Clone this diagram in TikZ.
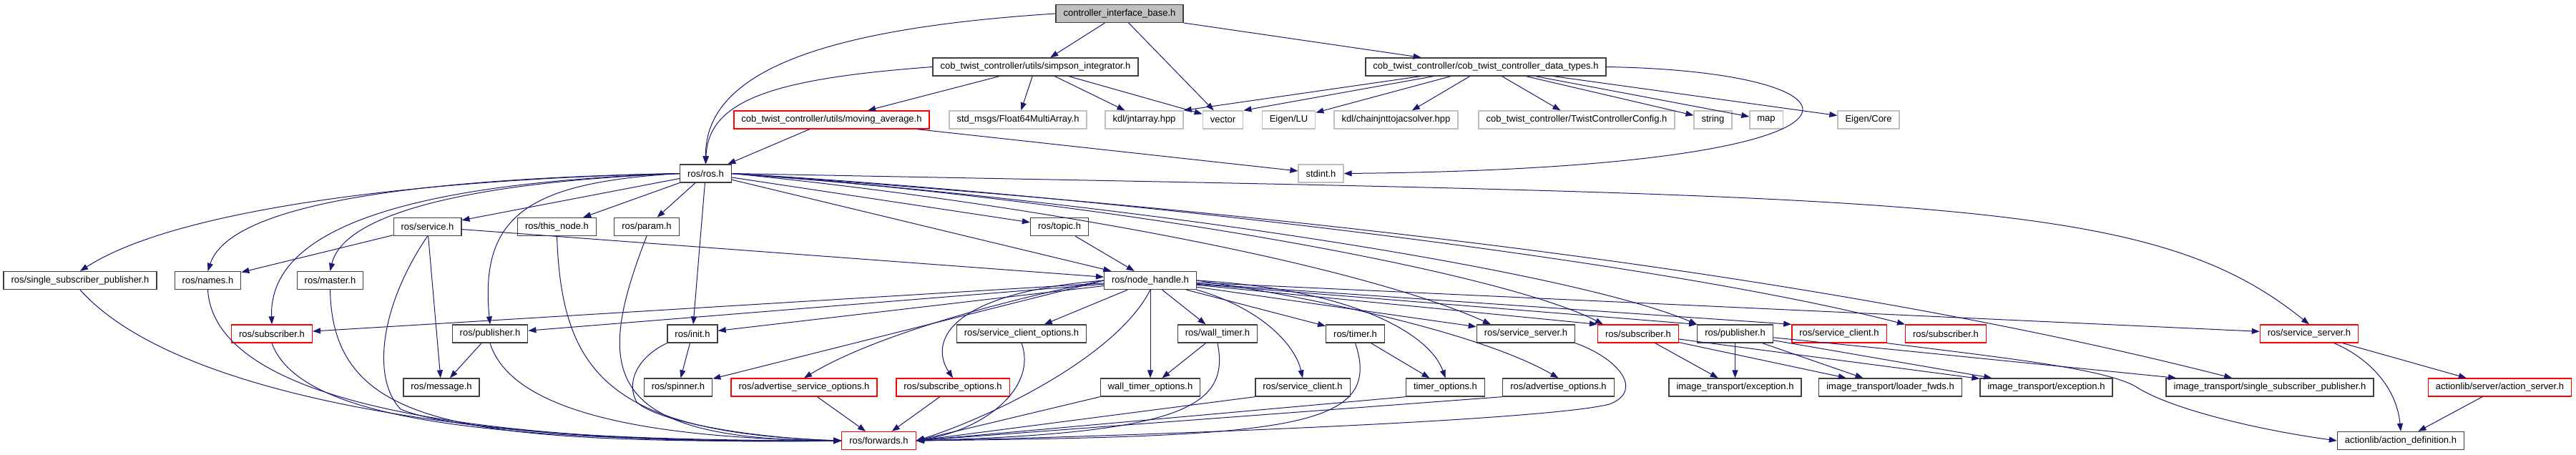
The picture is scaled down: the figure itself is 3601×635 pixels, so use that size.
\documentclass[tikz,border=0pt]{standalone}
\usepackage{fontspec}
\setmainfont{Liberation Sans}
\usetikzlibrary{arrows.meta}
\definecolor{edgeblue}{HTML}{191970}
\definecolor{lightframe}{HTML}{BFBFBF}
\definecolor{rootfill}{HTML}{BFBFBF}
\tikzset{
  hbox/.style={draw=black!75, line width=1.3pt, fill=white, minimum height=25pt,
    inner xsep=10.5pt, inner ysep=0pt, font=\fontsize{13}{15}\selectfont},
  redbox/.style={hbox, draw=red},
  graybox/.style={hbox, draw=lightframe},
  rootbox/.style={hbox, fill=rootfill},
  incl/.style={draw=edgeblue, line width=1pt, -{Triangle[length=11pt,width=8pt]}}
}
\begin{document}
\begin{tikzpicture}[x=1pt,y=1pt]
  \fill[white] (0,0) rectangle (3601,-635);
  \useasboundingbox (0,0) rectangle (3601,-635);
  % Row 1: the documented file
  \node[rootbox] (cib) at (1565,-19) {controller\_interface\_base.h};
  % Row 2
  \node[hbox] (simpson) at (1447.5,-93.5) {cob\_twist\_controller/utils/simpson\_integrator.h};
  \node[hbox] (datatypes) at (2077,-93.5) {cob\_twist\_controller/cob\_twist\_controller\_data\_types.h};
  % Row 3
  \node[redbox] (movingavg) at (1162.5,-167.5) {cob\_twist\_controller/utils/moving\_average.h};
  \node[graybox] (float64) at (1423,-167.5) {std\_msgs/Float64MultiArray.h};
  \node[graybox] (jntarray) at (1599.5,-167.5) {kdl/jntarray.hpp};
  \node[graybox] (vectorh) at (1709.5,-167.5) {vector};
  \node[graybox] (eigenlu) at (1801.5,-167.5) {Eigen/LU};
  \node[graybox] (chainjnt) at (1951.5,-167.5) {kdl/chainjnttojacsolver.hpp};
  \node[graybox] (twistcfg) at (2204,-167.5) {cob\_twist\_controller/TwistControllerConfig.h};
  \node[graybox] (stringh) at (2394.5,-167.5) {string};
  \node[graybox] (maph) at (2469,-167.5) {map};
  \node[graybox] (eigencore) at (2612,-167.5) {Eigen/Core};
  % Row 4
  \node[hbox] (rosh) at (986.5,-242.5) {ros/ros.h};
  \node[graybox] (stdinth) at (1846.5,-242.5) {stdint.h};
  % Row 5
  \node[hbox] (service) at (597.5,-317) {ros/service.h};
  \node[hbox] (thisnode) at (778.5,-317) {ros/this\_node.h};
  \node[hbox] (param) at (904,-317) {ros/param.h};
  \node[hbox] (topic) at (1481,-317) {ros/topic.h};
  % Row 6
  \node[hbox] (ssp) at (112,-392) {ros/single\_subscriber\_publisher.h};
  \node[hbox] (names) at (290.5,-392) {ros/names.h};
  \node[hbox] (master) at (461.5,-392) {ros/master.h};
  \node[hbox] (nodehandle) at (1608,-392) {ros/node\_handle.h};
  % Row 7
  \node[redbox] (subA) at (380,-466.5) {ros/subscriber.h};
  \node[hbox] (pubA) at (685,-466.5) {ros/publisher.h};
  \node[hbox] (init) at (968,-466.5) {ros/init.h};
  \node[hbox] (srvcliopts) at (1428,-466.5) {ros/service\_client\_options.h};
  \node[hbox] (walltimer) at (1702,-466.5) {ros/wall\_timer.h};
  \node[hbox] (timer) at (1894.5,-466.5) {ros/timer.h};
  \node[hbox] (srvsrvA) at (2133,-466.5) {ros/service\_server.h};
  \node[redbox] (subB) at (2290,-466.5) {ros/subscriber.h};
  \node[hbox] (pubB) at (2425.5,-466.5) {ros/publisher.h};
  \node[redbox] (srvcliB) at (2571,-466.5) {ros/service\_client.h};
  \node[redbox] (subC) at (2720,-466.5) {ros/subscriber.h};
  \node[redbox] (srvsrvB) at (3228,-466.5) {ros/service\_server.h};
  % Row 8
  \node[hbox] (message) at (617,-541.5) {ros/message.h};
  \node[hbox] (spinner) at (948,-541.5) {ros/spinner.h};
  \node[redbox] (advsrvopts) at (1124,-541.5) {ros/advertise\_service\_options.h};
  \node[redbox] (subopts) at (1332,-541.5) {ros/subscribe\_options.h};
  \node[hbox] (wtopts) at (1608,-541.5) {wall\_timer\_options.h};
  \node[hbox] (srvcliA) at (1821,-541.5) {ros/service\_client.h};
  \node[hbox] (timeropts) at (2020.5,-541.5) {timer\_options.h};
  \node[hbox] (advopts) at (2178.5,-541.5) {ros/advertise\_options.h};
  \node[hbox] (excA) at (2425.5,-541.5) {image\_transport/exception.h};
  \node[hbox] (loaderfwds) at (2642.5,-541.5) {image\_transport/loader\_fwds.h};
  \node[hbox] (excB) at (2860.5,-541.5) {image\_transport/exception.h};
  \node[hbox] (itssp) at (3173,-541.5) {image\_transport/single\_subscriber\_publisher.h};
  \node[redbox] (actserver) at (3494.5,-541.5) {actionlib/server/action\_server.h};
  % Row 9
  \node[redbox] (forwards) at (1228.5,-616) {ros/forwards.h};
  \node[hbox] (actdef) at (3356,-616) {actionlib/action\_definition.h};

  % controller_interface_base.h
  \draw[incl] (cib) -- (simpson);
  \draw[incl] (cib) -- (vectorh);
  \draw[incl] (cib) -- (datatypes);
  \draw[incl] (cib.west) .. controls (1150,-40) and (985,-100) .. (rosh.north);
  % simpson_integrator.h
  \draw[incl] (simpson.west) .. controls (1080,-110) and (990,-140) .. (rosh.north);
  \draw[incl] (simpson) -- (movingavg);
  \draw[incl] (simpson) -- (float64);
  \draw[incl] (simpson) -- (jntarray);
  \draw[incl] (simpson) -- (vectorh);
  % cob_twist_controller_data_types.h
  \draw[incl] (datatypes) -- (jntarray.north east);
  \draw[incl] (datatypes) -- (vectorh.north east);
  \draw[incl] (datatypes) -- (eigenlu);
  \draw[incl] (datatypes) -- (chainjnt);
  \draw[incl] (datatypes) -- (twistcfg);
  \draw[incl] (datatypes) -- (stringh);
  \draw[incl] (datatypes) -- (maph);
  \draw[incl] (datatypes) -- (eigencore);
  \draw[incl] (datatypes.east) .. controls (2640,-100) and (2680,-235) .. (stdinth.east);
  % moving_average.h
  \draw[incl] (movingavg) -- (rosh);
  \draw[incl] (movingavg) -- (stdinth);

  % ros/ros.h, to the left
  \draw[incl] (rosh.west) .. controls (600,-250) and (250,-290) .. (ssp.north);
  \draw[incl] (rosh.west) .. controls (550,-250) and (320,-290) .. (names.north);
  \draw[incl] (rosh.west) .. controls (600,-255) and (375,-310) .. (subA.north);
  \draw[incl] (rosh.west) .. controls (650,-255) and (480,-300) .. (master.north);
  \draw[incl] (rosh.west) .. controls (740,-255) and (670,-300) .. (pubA.north);
  \draw[incl] (rosh) -- (service);
  \draw[incl] (rosh) -- (thisnode);
  \draw[incl] (rosh) -- (param);
  \draw[incl] (rosh) -- (init);
  % ros/ros.h, to the right
  \draw[incl] (rosh) -- (topic);
  \draw[incl] (rosh) -- (nodehandle);
  \draw[incl] (rosh.east) .. controls (1450,-285) and (1900,-370) .. (srvsrvA.165);
  \draw[incl] (rosh.east) .. controls (1550,-280) and (2100,-380) .. (subB.165);
  \draw[incl] (rosh.east) .. controls (1600,-285) and (2200,-380) .. (pubB.north west);
  \draw[incl] (rosh.east) .. controls (1500,-270) and (2300,-360) .. (subC.north west);
  \draw[incl] (rosh.east) .. controls (1700,-290) and (2500,-370) .. (itssp.166);
  \draw[incl] (rosh.east) .. controls (2700,-275) and (3000,-270) .. (srvsrvB.north);

  % row 5
  \draw[incl] (service) -- (names);
  \draw[incl] (service) -- (message);
  \draw[incl] (service) -- (nodehandle);
  \draw[incl] (service.south) .. controls (530,-430) and (520,-530) .. (560,-572)
    .. controls (640,-605) and (900,-616) .. (forwards.west);
  \draw[incl] (thisnode.south) .. controls (785,-520) and (850,-605) .. (forwards.west);
  \draw[incl] (param.south) .. controls (830,-520) and (840,-615) .. (forwards.west);
  \draw[incl] (topic) -- (nodehandle);

  % row 6, left part
  \draw[incl] (ssp.south) .. controls (250,-560) and (700,-625) .. (forwards.west);
  \draw[incl] (names.south) .. controls (300,-560) and (650,-622) .. (forwards.west);
  \draw[incl] (master.south) .. controls (465,-600) and (650,-620) .. (forwards.west);

  % ros/node_handle.h
  \draw[incl] (nodehandle) -- (subA);
  \draw[incl] (nodehandle) -- (pubA);
  \draw[incl] (nodehandle) -- (init);
  \draw[incl] (nodehandle.west) -- (spinner);
  \draw[incl] (nodehandle.west) .. controls (1400,-420) and (1220,-470) .. (advsrvopts.north);
  \draw[incl] (nodehandle.west) .. controls (1320,-410) and (1300,-480) .. (subopts.north);
  \draw[incl] (nodehandle) -- (srvcliopts);
  \draw[incl] (nodehandle.south) .. controls (1560,-500) and (1380,-585) .. (forwards.east);
  \draw[incl] (nodehandle) -- (wtopts);
  \draw[incl] (nodehandle) -- (walltimer);
  \draw[incl] (nodehandle.south east) .. controls (1760,-430) and (1810,-480) .. (srvcliA.north);
  \draw[incl] (nodehandle) -- (timer);
  \draw[incl] (nodehandle.east) .. controls (1900,-405) and (2000,-470) .. (timeropts.north);
  \draw[incl] (nodehandle.east) .. controls (1800,-410) and (2060,-460) .. (advopts.north);
  \draw[incl] (nodehandle) -- (srvsrvA);
  \draw[incl] (nodehandle) -- (subB.north west);
  \draw[incl] (nodehandle) -- (pubB.north west);
  \draw[incl] (nodehandle) -- (srvcliB.north west);
  \draw[incl] (nodehandle) -- (srvsrvB);

  % row 7
  \draw[incl] (subA.south) .. controls (420,-590) and (700,-618) .. (forwards.west);
  \draw[incl] (pubA) -- (message);
  \draw[incl] (pubA.south) .. controls (710,-560) and (850,-612) .. (forwards.west);
  \draw[incl] (init) -- (spinner);
  \draw[incl] (init.south west) .. controls (890,-500) and (875,-535) .. (890,-562)
    .. controls (920,-590) and (1050,-612) .. (forwards.west);
  \draw[incl] (srvcliopts.south) .. controls (1450,-540) and (1380,-600) .. (forwards.east);
  \draw[incl] (walltimer) -- (wtopts);
  \draw[incl] (walltimer.south) .. controls (1720,-570) and (1650,-605) .. (forwards.east);
  \draw[incl] (timer) -- (timeropts);
  \draw[incl] (timer.south) .. controls (1935,-600) and (1800,-610) .. (forwards.east);
  \draw[incl] (srvsrvA.south east) .. controls (2260,-500) and (2300,-545) .. (2250,-565)
    .. controls (2150,-590) and (1500,-612) .. (forwards.east);
  \draw[incl] (subB) -- (excA);
  \draw[incl] (subB) -- (loaderfwds);
  \draw[incl] (subB) -- (excB);
  \draw[incl] (pubB) -- (excA);
  \draw[incl] (pubB) -- (loaderfwds);
  \draw[incl] (pubB) -- (excB);
  \draw[incl] (pubB) -- (itssp);
  \draw[incl] (srvcliB.south east) .. controls (2800,-500) and (2940,-515) .. (2985,-540)
    .. controls (3030,-570) and (3150,-600) .. (actdef.west);
  \draw[incl] (srvsrvB) -- (actserver);
  \draw[incl] ([xshift=35pt]srvsrvB.south) .. controls (3310,-500) and (3350,-540) .. (actdef.north);

  % row 8
  \draw[incl] (advsrvopts) -- (forwards);
  \draw[incl] (subopts) -- (forwards);
  \draw[incl] (wtopts.south west) -- (forwards.east);
  \draw[incl] (srvcliA.south west) -- (forwards.east);
  \draw[incl] (timeropts.south west) -- (forwards.east);
  \draw[incl] (advopts.south west) -- (forwards.east);
  \draw[incl] (actserver) -- (actdef);
\end{tikzpicture}
\end{document}
